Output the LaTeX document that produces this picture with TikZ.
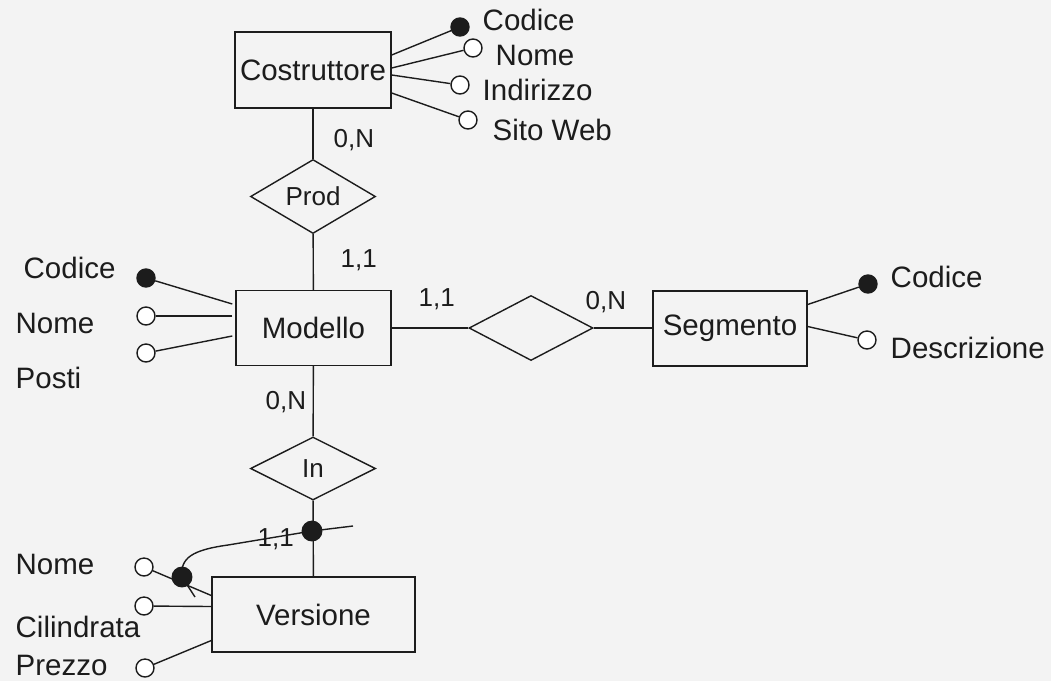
\documentclass[tikz,border=0pt]{standalone}
\usepackage{fontspec}
\setmainfont{Liberation Sans}
\usetikzlibrary{shapes.geometric}
\definecolor{bgc}{RGB}{243,243,243}
\definecolor{ink}{RGB}{28,28,28}
\begin{document}
\begin{tikzpicture}[x=1pt,y=-1pt,line width=1.4pt,color=ink,
  entity/.style={draw,rectangle,minimum width=155pt,minimum height=75pt,inner sep=0pt,font=\fontsize{29.5}{35}\selectfont},
  rel/.style={draw,diamond,minimum width=125pt,minimum height=65pt,inner sep=0pt,font=\fontsize{26}{31}\selectfont},
  attr/.style={draw,circle,fill=white,minimum size=18pt,inner sep=0pt},
  keyattr/.style={draw,circle,fill=ink,minimum size=18pt,inner sep=0pt},
  idmark/.style={draw,circle,fill=ink,minimum size=19.5pt,inner sep=0pt},
  lab/.style={anchor=base west,inner sep=0pt,font=\fontsize{29.5}{35}\selectfont},
  card/.style={anchor=base west,inner sep=0pt,font=\fontsize{26}{31}\selectfont}]
\fill[bgc] (0,0) rectangle (1051,681);
\useasboundingbox (0,0) rectangle (1051,681);

% entities
\node[entity,minimum width=156pt,minimum height=76pt] (cost) at (313,70) {Costruttore};
\node[entity] (mod) at (313.5,328) {Modello};
\node[entity,minimum width=154pt] (seg) at (730,328.5) {Segmento};
\node[entity,minimum width=203pt] (ver) at (313.5,614.5) {Versione};

% relationships
\node[rel] (prod) at (313,196.5) {Prod};
\node[rel,minimum width=124pt] (ms) at (531,328) {};
\node[rel,minimum height=63pt] (inrel) at (313,468.5) {In};

% relationship links
\draw (cost) -- (prod);
\draw (prod) -- (mod);
\draw (mod.east) -- (ms.west);
\draw (ms.east) -- (seg.west |- ms.east);
\draw (mod) -- (inrel);
\draw (inrel) -- (ver);

% cardinalities
\node[card] (c1) at (333,147) {0,N};
\node[card] (c2) at (340,267) {1,1};
\node[card] (c3) at (418,306) {1,1};
\node[card] (c4) at (585,309) {0,N};
\node[card] (c5) at (265,409) {0,N};

% Costruttore attributes
\node[keyattr] (cCod) at (460,27) {};
\node[attr] (cNom) at (473,48) {};
\node[attr] (cInd) at (460,85) {};
\node[attr] (cSit) at (468,120) {};
\draw ([yshift=15pt]cost.east) -- (cCod);
\draw ([yshift=2pt]cost.east) -- (cNom);
\draw ([yshift=-5pt]cost.east) -- (cInd);
\draw ([yshift=-23pt]cost.east) -- (cSit);
\node[lab] (lcCod) at (482,30) {Codice};
\node[lab] (lcNom) at (495,65) {Nome};
\node[lab] (lcInd) at (482,100) {Indirizzo};
\node[lab] (lcSit) at (492,140) {Sito Web};

% Modello attributes
\node[keyattr] (mCod) at (146,278) {};
\node[attr] (mNom) at (146,316) {};
\node[attr] (mPos) at (146,353) {};
\draw ([yshift=24pt,xshift=-3pt]mod.west) -- (mCod);
\draw ([yshift=12pt,xshift=-3pt]mod.west) -- (mNom);
\draw ([yshift=-8pt,xshift=-3pt]mod.west) -- (mPos);
\node[lab] (lmCod) at (23,278) {Codice};
\node[lab] (lmNom) at (15,333) {Nome};
\node[lab] (lmPos) at (15,388) {Posti};

% Segmento attributes
\node[keyattr] (sCod) at (868,284) {};
\node[attr] (sDes) at (867,340) {};
\draw ([yshift=24pt]seg.east) -- (sCod);
\draw ([yshift=2pt]seg.east) -- (sDes);
\node[lab] (lsCod) at (890,287) {Codice};
\node[lab] (lsDes) at (890,358) {Descrizione};

% Versione attributes
\node[attr] (vNom) at (144,567) {};
\node[attr] (vCil) at (144,606) {};
\node[attr] (vPre) at (145,668) {};
\draw ([yshift=19pt]ver.west) -- (vNom);
\draw ([yshift=8pt]ver.west) -- (vCil);
\draw ([yshift=-26pt]ver.west) -- (vPre);
\node[lab] (lvNom) at (15,574) {Nome};
\node[lab] (lvCil) at (15,637) {Cilindrata};
\node[lab] (lvPre) at (15,675) {Prezzo};

% external identifier
\coordinate (idEnd) at (353,526);
\coordinate (idTail) at (195,597);
\coordinate (pA) at (312,531);
\coordinate (pB) at (182,577);
\draw (idEnd) -- (pA) -- (228,545) .. controls (192,550) and (180,558) .. (pB) -- (idTail);
\node[idmark] (idA) at (pA) {};
\node[idmark] (idB) at (pB) {};
\node[card] (c6) at (257,546) {1,1};
\end{tikzpicture}
\end{document}
